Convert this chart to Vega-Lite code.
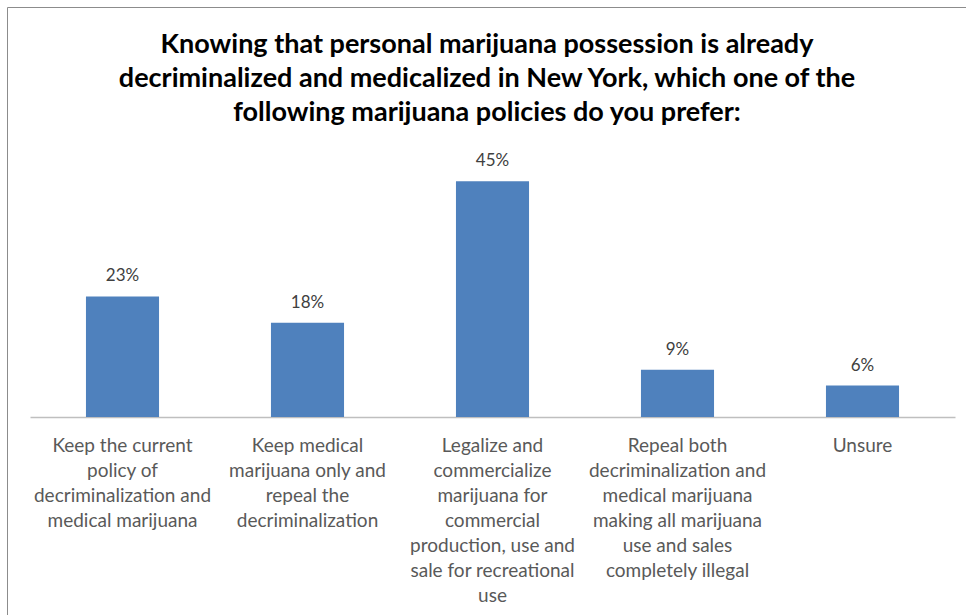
{
  "$schema": "https://vega.github.io/schema/vega-lite/v6.json",
  "autosize": {"type": "none"},
  "padding": {"left": 7, "top": 7, "right": -1, "bottom": -1},
  "width": 960,
  "height": 609,
  "background": "white",
  "config": {
    "view": {"stroke": "#8C8C8C", "strokeWidth": 1},
    "font": "Lato"
  },
  "title": {
    "text": ["Knowing that personal marijuana possession is already", "decriminalized and medicalized in New York, which one of the", "following marijuana policies do you prefer:"],
    "font": "Lato",
    "fontSize": 27,
    "fontWeight": "bold",
    "color": "#000000",
    "lineHeight": 34,
    "anchor": "middle",
    "frame": "group",
    "offset": -120
  },
  "data": {
    "values": [
      {"policy": "Keep the current\npolicy of\ndecriminalization and\nmedical marijuana", "share": 0.23},
      {"policy": "Keep medical\nmarijuana only and\nrepeal the\ndecriminalization", "share": 0.18},
      {"policy": "Legalize and\ncommercialize\nmarijuana for\ncommercial\nproduction, use and\nsale for recreational\nuse", "share": 0.45},
      {"policy": "Repeal both\ndecriminalization and\nmedical marijuana\nmaking all marijuana\nuse and sales\ncompletely illegal", "share": 0.09},
      {"policy": "Unsure", "share": 0.06}
    ]
  },
  "encoding": {
    "x": {
      "field": "policy",
      "type": "nominal",
      "sort": null,
      "scale": {"range": [23, 948], "paddingInner": 0.605, "paddingOuter": 0.3025},
      "axis": {
        "title": null,
        "labelAngle": 0,
        "labelExpr": "split(datum.label, '\\n')",
        "labelLimit": 0,
        "labelOverlap": false,
        "labelFont": "Lato",
        "labelFontSize": 19,
        "labelColor": "#595959",
        "labelLineHeight": 25,
        "labelPadding": 19,
        "ticks": false,
        "domainColor": "#BFBFBF",
        "domainWidth": 1.5,
        "offset": -199
      }
    },
    "y": {
      "field": "share",
      "type": "quantitative",
      "scale": {"domain": [0, 0.5], "range": [410, 148], "nice": false},
      "axis": null
    }
  },
  "layer": [
    {"mark": {"type": "bar", "color": "#4F81BD"}},
    {
      "mark": {"type": "text", "dy": -15, "baseline": "alphabetic", "fontSize": 17, "color": "#404040", "font": "Lato"},
      "encoding": {"text": {"field": "share", "type": "quantitative", "format": ".0%"}}
    }
  ]
}
